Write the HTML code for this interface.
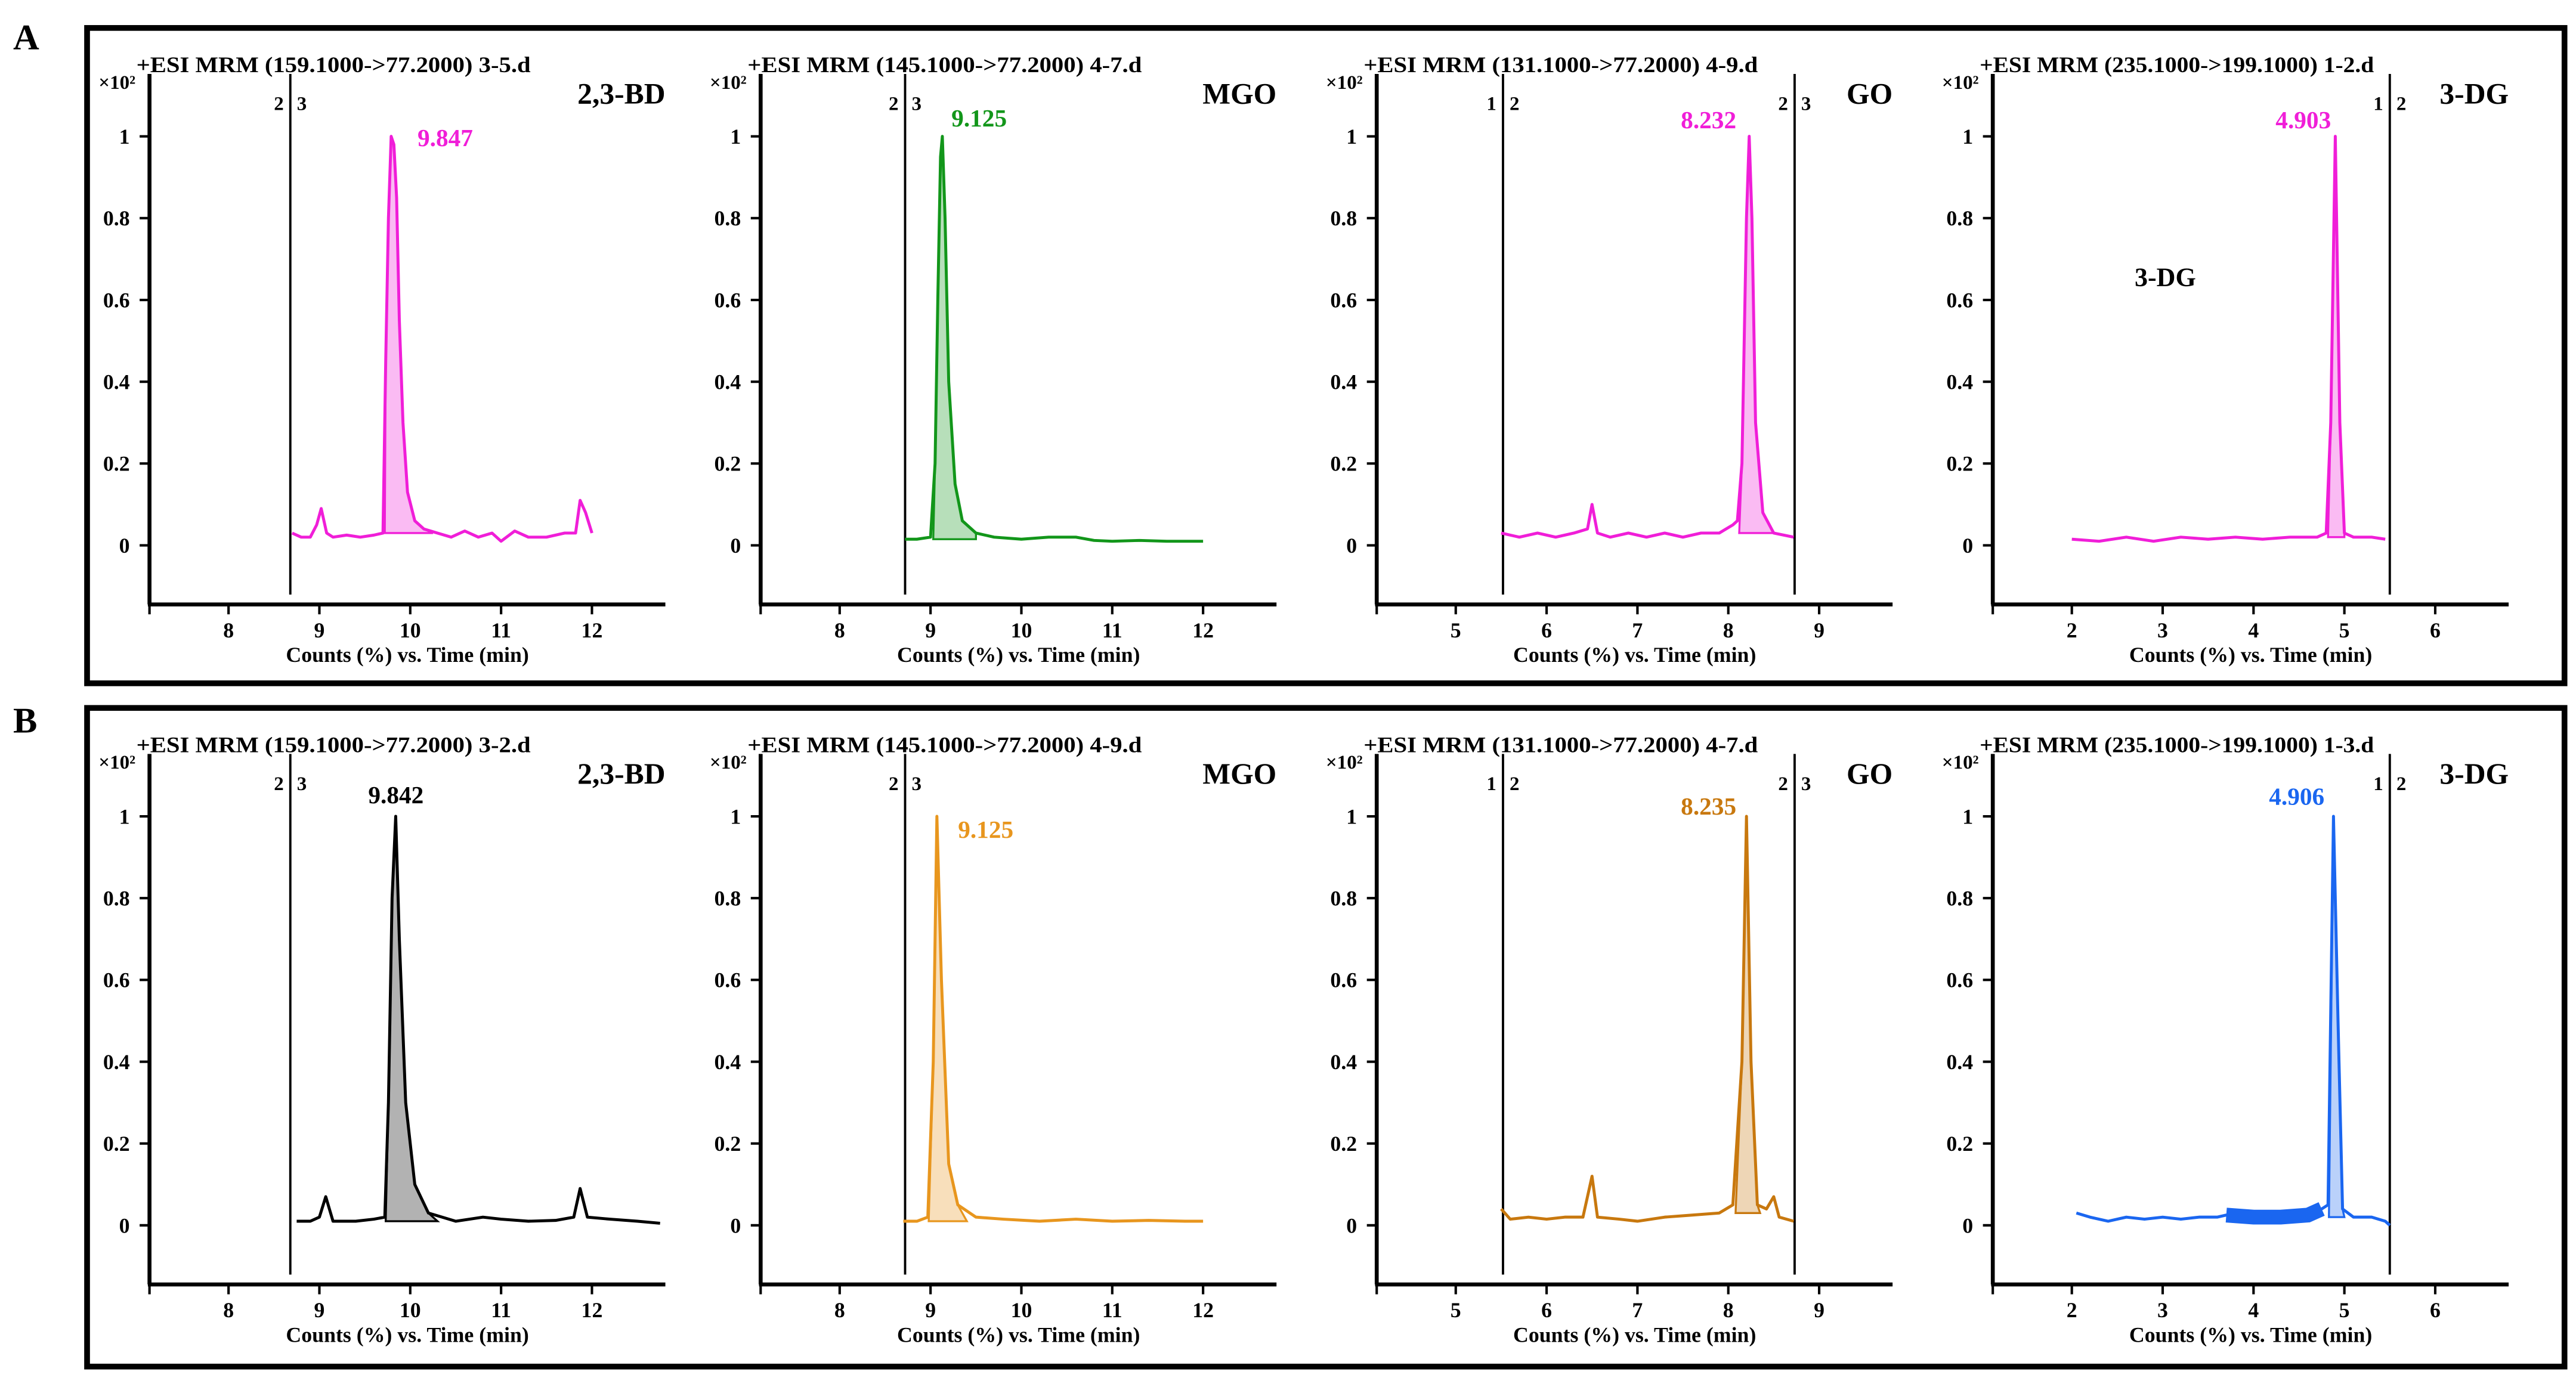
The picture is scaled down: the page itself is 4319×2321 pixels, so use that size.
<!DOCTYPE html>
<html><head><meta charset="utf-8"><style>
html,body{margin:0;padding:0;background:#fff}
svg{display:block}
text{font-family:"Liberation Serif",serif;font-weight:bold}
</style></head><body>
<svg id="fig" width="4319" height="2321" viewBox="0 0 1568 842.6" xmlns="http://www.w3.org/2000/svg">
<rect x="0" y="0" width="1568" height="842.6" fill="#fff"/>
<text x="8" y="30" font-size="22">A</text>
<text x="8" y="446" font-size="22">B</text>
<rect x="53" y="17" width="1508" height="399" fill="none" stroke="#000" stroke-width="3.5"/>
<rect x="53" y="431" width="1508" height="401" fill="none" stroke="#000" stroke-width="3.5"/>
<g id="plots"></g>
</svg>
<script>
// ---- data (time in min, relative counts ×10^2) ----
const a1T=[8.7,8.8,8.9,8.97,9.02,9.08,9.15,9.3,9.45,9.6,9.7,9.73,9.76,9.79,9.82,9.85,9.88,9.92,9.97,10.05,10.15,10.3,10.45,10.6,10.75,10.9,11.0,11.15,11.3,11.5,11.7,11.82,11.87,11.93,12.0];
const a1V=[0.03,0.02,0.02,0.05,0.09,0.03,0.02,0.025,0.02,0.025,0.03,0.45,0.8,1.0,0.98,0.85,0.55,0.3,0.13,0.06,0.04,0.03,0.02,0.035,0.02,0.03,0.01,0.035,0.02,0.02,0.03,0.03,0.11,0.08,0.03];
const a2T=[8.72,8.85,9.0,9.05,9.08,9.11,9.13,9.16,9.2,9.27,9.35,9.5,9.7,10.0,10.3,10.6,10.8,11.0,11.3,11.6,12.0];
const a2V=[0.015,0.015,0.02,0.2,0.6,0.95,1.0,0.8,0.4,0.15,0.06,0.03,0.02,0.015,0.02,0.02,0.012,0.01,0.012,0.01,0.01];
const a3T=[5.5,5.7,5.9,6.1,6.3,6.45,6.5,6.56,6.7,6.9,7.1,7.3,7.5,7.7,7.9,8.05,8.1,8.15,8.2,8.23,8.26,8.3,8.38,8.5,8.72];
const a3V=[0.03,0.02,0.03,0.02,0.03,0.04,0.1,0.03,0.02,0.03,0.02,0.03,0.02,0.03,0.03,0.05,0.06,0.2,0.8,1.0,0.8,0.3,0.08,0.03,0.02];
const a4T=[2.0,2.3,2.6,2.9,3.2,3.5,3.8,4.1,4.4,4.7,4.8,4.85,4.9,4.95,5.0,5.1,5.3,5.45];
const a4V=[0.015,0.01,0.02,0.01,0.02,0.015,0.02,0.015,0.02,0.02,0.03,0.3,1.0,0.3,0.03,0.02,0.02,0.015];
const b1T=[8.75,8.9,9.0,9.07,9.15,9.4,9.6,9.72,9.76,9.8,9.84,9.88,9.95,10.05,10.2,10.5,10.8,11.0,11.3,11.6,11.8,11.87,11.95,12.2,12.5,12.75];
const b1V=[0.01,0.01,0.02,0.07,0.01,0.01,0.015,0.02,0.3,0.8,1.0,0.7,0.3,0.1,0.03,0.01,0.02,0.015,0.01,0.012,0.02,0.09,0.02,0.015,0.01,0.005];
const b2T=[8.7,8.85,8.97,9.03,9.07,9.12,9.2,9.3,9.5,9.8,10.2,10.6,11.0,11.4,11.8,12.0];
const b2V=[0.01,0.01,0.02,0.4,1.0,0.6,0.15,0.05,0.02,0.015,0.01,0.015,0.01,0.012,0.01,0.01];
const b3T=[5.5,5.6,5.8,6.0,6.2,6.4,6.5,6.56,6.8,7.0,7.3,7.6,7.9,8.05,8.15,8.2,8.25,8.32,8.42,8.5,8.56,8.72];
const b3V=[0.04,0.015,0.02,0.015,0.02,0.02,0.12,0.02,0.015,0.01,0.02,0.025,0.03,0.05,0.4,1.0,0.4,0.05,0.04,0.07,0.02,0.01];
const b4T=[2.05,2.2,2.4,2.6,2.8,3.0,3.2,3.4,3.6,3.7,4.0,4.3,4.6,4.75,4.82,4.88,4.93,4.98,5.1,5.3,5.45,5.5];
const b4V=[0.03,0.02,0.01,0.02,0.015,0.02,0.015,0.02,0.02,0.025,0.02,0.02,0.025,0.04,0.05,1.0,0.5,0.04,0.02,0.02,0.01,0.0];
const yTicks=[0,0.2,0.4,0.6,0.8,1];
const yTickLabels=["0","0.2","0.4","0.6","0.8","1"];

const panels=[
 {id:'a1',ox:91,zy:332,first:8,ticks:[8,9,10,11,12],T:a1T,V:a1V,col:'#f01ed8',fill:[9.72,10.25],base:0.03,segs:[{t:8.68,l:'2',r:'3'}],title:'+ESI MRM (159.1000->77.2000) 3-5.d',cmp:'2,3-BD',pk:'9.847',pkx:271,pky:89},
 {id:'a2',ox:463,zy:332,first:8,ticks:[8,9,10,11,12],T:a2T,V:a2V,col:'#12961a',fill:[9.03,9.5],base:0.015,segs:[{t:8.72,l:'2',r:'3'}],title:'+ESI MRM (145.1000->77.2000) 4-7.d',cmp:'MGO',pk:'9.125',pkx:596,pky:77},
 {id:'a3',ox:838,zy:332,first:5,ticks:[5,6,7,8,9],T:a3T,V:a3V,col:'#f01ed8',fill:[8.12,8.5],base:0.03,segs:[{t:5.52,l:'1',r:'2'},{t:8.73,l:'2',r:'3'}],title:'+ESI MRM (131.1000->77.2000) 4-9.d',cmp:'GO',pk:'8.232',pkx:1040,pky:78},
 {id:'a4',ox:1213,zy:332,first:2,ticks:[2,3,4,5,6],T:a4T,V:a4V,col:'#f01ed8',fill:[4.82,5.0],base:0.02,segs:[{t:5.5,l:'1',r:'2'}],title:'+ESI MRM (235.1000->199.1000) 1-2.d',cmp:'3-DG',pk:'4.903',pkx:1402,pky:78,extra:'3-DG'},
 {id:'b1',ox:91,zy:746,first:8,ticks:[8,9,10,11,12],T:b1T,V:b1V,col:'#000000',fill:[9.73,10.3],base:0.01,segs:[{t:8.68,l:'2',r:'3'}],title:'+ESI MRM (159.1000->77.2000) 3-2.d',cmp:'2,3-BD',pk:'9.842',pkx:241,pky:489},
 {id:'b2',ox:463,zy:746,first:8,ticks:[8,9,10,11,12],T:b2T,V:b2V,col:'#e8961e',fill:[8.98,9.4],base:0.01,segs:[{t:8.72,l:'2',r:'3'}],title:'+ESI MRM (145.1000->77.2000) 4-9.d',cmp:'MGO',pk:'9.125',pkx:600,pky:510},
 {id:'b3',ox:838,zy:746,first:5,ticks:[5,6,7,8,9],T:b3T,V:b3V,col:'#c8780e',fill:[8.08,8.35],base:0.03,segs:[{t:5.52,l:'1',r:'2'},{t:8.73,l:'2',r:'3'}],title:'+ESI MRM (131.1000->77.2000) 4-7.d',cmp:'GO',pk:'8.235',pkx:1040,pky:496},
 {id:'b4',ox:1213,zy:746,first:2,ticks:[2,3,4,5,6],T:b4T,V:b4V,col:'#1a66f0',fill:[4.83,5.0],base:0.02,segs:[{t:5.5,l:'1',r:'2'}],title:'+ESI MRM (235.1000->199.1000) 1-3.d',cmp:'3-DG',pk:'4.906',pkx:1398,pky:490,band:[3.7,4.75]}
];
const NS='http://www.w3.org/2000/svg';
const root=document.getElementById('plots');
function mk(tag,attrs,parent,txt){const e=document.createElementNS(NS,tag);for(const k in attrs)e.setAttribute(k,attrs[k]);if(txt!==undefined)e.textContent=txt;parent.appendChild(e);return e;}
const PXM=55.3;
panels.forEach(p=>{
 const g=mk('g',{},root);
 
 
 const xmin=p.first-0.87;
 const sx=t=>p.ox+(t-xmin)*PXM;
 const sy=v=>p.zy-v*249;
 const axY=p.zy+36, top=p.zy-287, right=p.ox+314;
 const tt=mk('text',{x:p.ox-8,y:p.zy-288,'font-size':13.5,textLength:240,lengthAdjust:'spacingAndGlyphs'},g,p.title);
 
 
 const ex=mk('text',{x:p.ox-31,y:p.zy-278,'font-size':12},g,'×10²');
 
 
 const cl=mk('text',{x:right,y:p.zy-269,'font-size':18,'text-anchor':'end'},g,p.cmp);
 
 
 const ya=mk('line',{x1:p.ox,y1:top,x2:p.ox,y2:axY,stroke:'#000','stroke-width':2.4},g);
 
 
 const xa=mk('line',{x1:p.ox-1,y1:axY,x2:right,y2:axY,stroke:'#000','stroke-width':2.4},g);
 
 
 mk('line',{x1:p.ox,y1:axY,x2:p.ox,y2:axY+6,stroke:'#000','stroke-width':1.5},g);
 yTicks.forEach((v,i)=>{
  mk('line',{x1:p.ox-6,y1:sy(v),x2:p.ox,y2:sy(v),stroke:'#000','stroke-width':1.5},g);
  const l=mk('text',{x:p.ox-12,y:sy(v)+4.5,'font-size':13,'text-anchor':'end'},g,yTickLabels[i]);
  
  
 });
 p.ticks.forEach(t=>{
  mk('line',{x1:sx(t),y1:axY,x2:sx(t),y2:axY+6,stroke:'#000','stroke-width':1.5},g);
  const l=mk('text',{x:sx(t),y:axY+20,'font-size':13,'text-anchor':'middle'},g,String(t));
  
  
 });
 const at=mk('text',{x:p.ox+157,y:axY+35,'font-size':13,'text-anchor':'middle'},g,'Counts (%) vs. Time (min)');
 
 
 p.segs.forEach(s=>{
  const x=sx(s.t);
  const sl=mk('line',{x1:x,y1:top,x2:x,y2:axY-6,stroke:'#000','stroke-width':1.4},g);
  
  
  mk('text',{x:x-4,y:top+22,'font-size':12,'text-anchor':'end'},g,s.l);
  mk('text',{x:x+4,y:top+22,'font-size':12},g,s.r);
 });
 let fp=[];
 p.T.forEach((t,i)=>{if(t>=p.fill[0]&&t<=p.fill[1])fp.push(sx(t)+','+sy(p.V[i]));});
 fp.push(sx(p.fill[1])+','+sy(p.base));fp.push(sx(p.fill[0])+','+sy(p.base));
 const pf=mk('polygon',{points:fp.join(' '),fill:p.col,'fill-opacity':0.3,stroke:p.col,'stroke-width':1.2},g);
 
 
 if(p.band){
  const bp=[];
  p.T.forEach((t,i)=>{if(t>=p.band[0]&&t<=p.band[1])bp.push(sx(t)+','+sy(p.V[i]));});
  const bl=mk('polyline',{points:bp.join(' '),fill:'none',stroke:p.col,'stroke-width':9},g);
  
  
 }
 const pts=p.T.map((t,i)=>sx(t)+','+sy(p.V[i])).join(' ');
 const tr=mk('polyline',{points:pts,fill:'none',stroke:p.col,'stroke-width':1.8,'stroke-linejoin':'round'},g);
 
 
 const pl=mk('text',{x:p.pkx,y:p.pky,'font-size':15,fill:p.col,'text-anchor':'middle'},g,p.pk);
 
 
 if(p.extra){
  const e=mk('text',{x:1318,y:174,'font-size':16,'text-anchor':'middle'},g,p.extra);
  
  
 }
});
</script>
</body></html>
